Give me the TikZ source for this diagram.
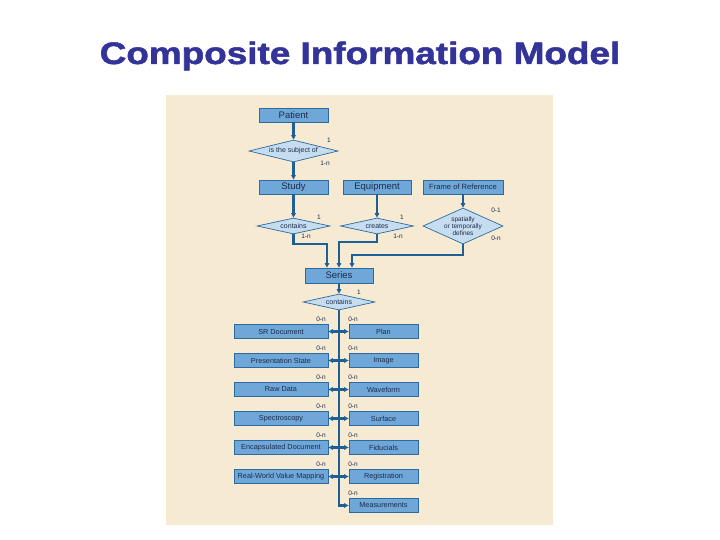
\documentclass[tikz,border=0pt]{standalone}
\usepackage{fontspec}
\setmainfont{Liberation Sans}
\newfontfamily\titlefont{Liberation Sans Bold}[FakeBold=1.6]
\usetikzlibrary{shapes.geometric,arrows.meta}
\definecolor{bg}{HTML}{F6EAD3}
\definecolor{boxfill}{HTML}{6FA7D8}
\definecolor{boxline}{HTML}{2D6A9F}
\definecolor{dfill}{HTML}{C6DDF0}
\definecolor{lineblue}{HTML}{1F5F94}
\definecolor{txt}{HTML}{1B2B4B}
\definecolor{titleblue}{HTML}{333399}
\begin{document}
\begin{tikzpicture}[x=1pt,y=-1pt,
  ent/.style={draw=boxline, fill=boxfill, line width=0.8pt, minimum height=14pt, inner sep=0pt, text=txt, font=\fontsize{9.5}{10}\selectfont},
  sment/.style={ent, font=\fontsize{7.3}{8}\selectfont},
  lbox/.style={sment, minimum width=94pt},
  rbox/.style={sment, minimum width=69pt},
  rel/.style={diamond, draw=boxline, fill=dfill, line width=0.7pt, inner sep=0pt, aspect=4, text=txt, font=\fontsize{7}{8}\selectfont},
  dtext/.style={text=txt, font=\fontsize{6.5}{6.8}\selectfont, align=center, inner sep=0pt},
  mult/.style={text=txt, font=\fontsize{6.5}{7}\selectfont, inner sep=0pt},
  conn/.style={draw=lineblue, line width=2.2pt, -{Triangle[length=4.5pt,width=4.5pt]}}
]
\useasboundingbox (0,0) rectangle (720,540);
\fill[white] (0,0) rectangle (720,540);
\node[anchor=base, text=titleblue, inner sep=0pt] (title) at (360,64) {\titlefont\fontsize{31}{36}\selectfont\scalebox{1.19}[1]{Composite Information Model}};
\fill[bg] (166,95) rectangle (553,525);

% top entities
\node[ent, minimum width=69pt] (patient) at (293.5,115) {Patient};
\node[rel, minimum width=89pt, minimum height=22pt] (d1) at (293.5,151) {is the subject of};
\node[ent, minimum width=69pt] (study) at (293.5,187) {Study};
\node[ent, minimum width=68pt] (equip) at (377,187) {Equipment};
\node[ent, minimum width=80pt, font=\fontsize{7.6}{8}\selectfont] (frame) at (463,187) {Frame of Reference};

\node[rel, minimum width=73pt, minimum height=16pt] (d2) at (293.5,226) {contains};
\node[rel, minimum width=73pt, minimum height=16pt] (d3) at (377,226) {creates};
\node[rel, minimum width=80pt, minimum height=36pt] (d4) at (463,226) {};
\node[dtext] (d4t) at (463,226) {spatially\\or temporally\\defines};

\node[ent, minimum width=68pt, minimum height=15pt] (series) at (339,275.5) {Series};
\node[rel, minimum width=72pt, minimum height=16pt] (c2) at (339,302) {contains};

% multiplicities
\node[mult] (m1a) at (329,140) {1};
\node[mult] (m1b) at (325,163) {1-n};
\node[mult] (m2a) at (319,217) {1};
\node[mult] (m2b) at (306,236) {1-n};
\node[mult] (m3a) at (402,217) {1};
\node[mult] (m3b) at (398,236) {1-n};
\node[mult] (m4a) at (496,210) {0-1};
\node[mult] (m4b) at (496,238) {0-n};
\node[mult] (m5a) at (359,292) {1};

% connectors top
\draw[conn] (patient) -- (d1);
\draw[conn] (d1) -- (study);
\draw[conn] (study) -- (d2);
\draw[conn] (equip) -- (d3);
\draw[conn] (frame) -- (d4);
\coordinate (b1) at (327,244);
\coordinate (b2) at (339,242);
\coordinate (b3) at (352,255);
\draw[conn] (d2.south) |- (b1) -- (b1 |- series.north);
\draw[conn] (d3.south) |- (b2) -- (b2 |- series.north);
\draw[conn] (d4.south) |- (b3) -- (b3 |- series.north);
\draw[conn] (series) -- (c2);

% lower boxes
\foreach \i/\y/\l/\r in {1/331.5/SR Document/Plan,
                       2/360.5/Presentation State/Image,
                       3/389.5/Raw Data/Waveform,
                       4/418.5/Spectroscopy/Surface,
                       5/447.5/Encapsulated Document/Fiducials,
                       6/476.5/Real-World Value Mapping/Registration}{
  \node[lbox] (L\i) at (281,\y) {\l};
  \node[rbox] (R\i) at (383.5,\y) {\r};
  \coordinate (j\i) at (339,\y);
  \node[mult] (ml\i) at (321,\y-12) {0-n};
  \node[mult] (mr\i) at (353,\y-12) {0-n};
}
\node[rbox] (meas) at (383.5,505.5) {Measurements};
\node[mult] (mr7) at (353,493.5) {0-n};

\draw[conn] (c2.south) |- (meas.west);
\foreach \i in {1,...,6}{
  \draw[conn] (j\i) -- (L\i.east);
  \draw[conn] (j\i) -- (R\i.west);
}
\end{tikzpicture}
\end{document}
